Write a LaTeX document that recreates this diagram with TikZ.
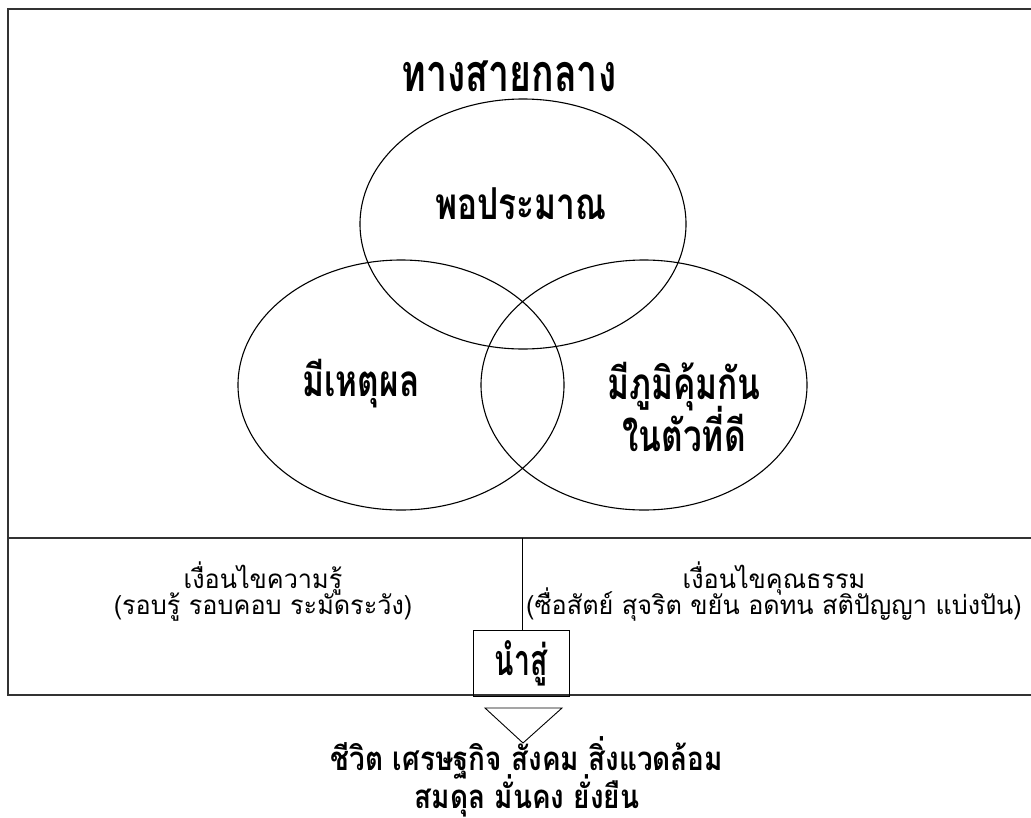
\documentclass[tikz,border=0pt]{standalone}
\usepackage{fontspec}
\newfontfamily\thai[Script=Thai]{Loma}
\newfontfamily\thaititle[Script=Thai,FakeStretch=0.72]{Loma}
\newfontfamily\thaibig[Script=Thai,FakeStretch=0.76]{Loma}
\newfontfamily\thaibox[Script=Thai,FakeStretch=0.66]{Loma}
\newfontfamily\thaicond[Script=Thai,FakeStretch=0.97]{Loma}
\newfontfamily\thaiend[Script=Thai,FakeStretch=0.845]{Loma}
\usetikzlibrary{shapes.geometric}
\newcommand{\tightlines}{\lineskiplimit=-40pt\lineskip=0pt}
\tikzset{
  frame/.style={line width=1.5pt, draw=black!80},
  thin/.style={line width=0.9pt, draw=black},
  venn/.style={draw, ellipse, line width=1.1pt, inner sep=0pt, minimum width=326pt, minimum height=250pt},
  titletext/.style={font=\thaititle\bfseries\fontsize{52}{56}\selectfont, inner sep=0pt},
  bigtext/.style={font=\thaibig\bfseries\fontsize{44}{52}\selectfont\tightlines, align=center, inner sep=0pt},
  condtext/.style={font=\thaicond\fontsize{26}{26}\selectfont\tightlines, align=center, inner sep=0pt},
  boxtext/.style={font=\thaibox\bfseries\fontsize{43}{48}\selectfont, draw, line width=0.9pt, minimum width=96pt, minimum height=66pt, inner sep=0pt},
  endtext/.style={font=\thaiend\bfseries\fontsize{33}{33}\selectfont\tightlines, align=center, inner sep=0pt},
}
\begin{document}
\begin{tikzpicture}[x=1pt,y=-1pt]
\useasboundingbox (0,0) rectangle (1031,817);
% frame
\coordinate (tr) at (1034,9);
\coordinate (tl) at (8,9);
\coordinate (bl) at (8,695);
\coordinate (br) at (1034,695);
\coordinate (ml) at (8,538);
\coordinate (mr) at (1034,538);
\coordinate (mid) at (522,538);
\draw[frame] (tr) -- (tl) -- (bl) -- (br);
\draw[frame] (ml) -- (mr);
% venn
\node[venn] (top) at (523,224) {};
\node[venn] (left) at (401,385) {};
\node[venn] (right) at (644,385) {};
\node[titletext] (title) at (509,76) {ทางสายกลาง};
\node[bigtext] (t1) at (521,204) {พอประมาณ};
\node[bigtext] (t2) at (361,384) {มีเหตุผล};
\node[bigtext] (t3) at (684,407) {มีภูมิคุ้มกัน\\ในตัวที่ดี};
% conditions
\node[condtext] (c1) at (263,592) {เงื่อนไขความรู้\\(รอบรู้ รอบคอบ ระมัดระวัง)};
\node[condtext] (c2) at (774,592) {เงื่อนไขคุณธรรม\\(ซื่อสัตย์ สุจริต ขยัน อดทน สติปัญญา แบ่งปัน)};
\node[boxtext] (lead) at (521,663) {นำสู่};
\draw[thin] (mid) -- (lead.north -| mid);
% arrow triangle
\coordinate (a1) at (485,708);
\coordinate (a2) at (562,708);
\coordinate (a3) at (523,743);
\draw[thin] (a1) -- (a2) -- (a3) -- cycle;
\node[endtext] (res) at (527,777) {ชีวิต เศรษฐกิจ สังคม สิ่งแวดล้อม\\[5pt]สมดุล มั่นคง ยั่งยืน};
\end{tikzpicture}
\end{document}
